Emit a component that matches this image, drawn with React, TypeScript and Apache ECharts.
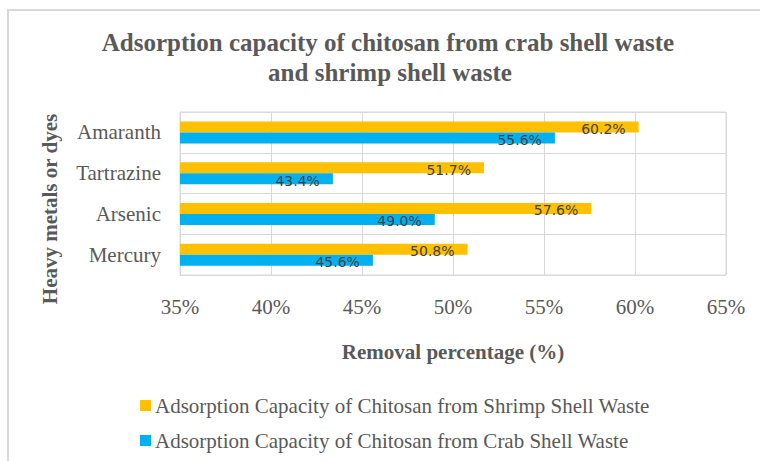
import React, { useEffect, useRef } from "react";
import * as echarts from "echarts";

const categories = ["Mercury", "Arsenic", "Tartrazine", "Amaranth"];
const shrimpValues = [50.8, 57.6, 51.7, 60.2];
const crabValues = [45.6, 49.0, 43.4, 55.6];
const shrimpName = "Adsorption Capacity of Chitosan from Shrimp Shell Waste";
const crabName = "Adsorption Capacity of Chitosan from Crab Shell Waste";
const titleLines = ["Adsorption capacity of chitosan from crab shell waste", "and shrimp shell waste"];
const xAxisTitle = "Removal percentage (%)";
const yAxisTitle = "Heavy metals or dyes";
const xMin = 35;
const xMax = 65;
const xStep = 5;

const SERIF = "'Liberation Serif', 'Times New Roman', serif";
const GREY = "#595959";

export default function App() {
  const ref = useRef<HTMLDivElement>(null);
  useEffect(() => {
    if (!ref.current) return;
    const chart = echarts.init(ref.current, null, { renderer: "svg" });
    const label = {
      show: true,
      position: "insideRight" as const,
      distance: 13,
      offset: [0, 2],
      formatter: (p: any) => p.value.toFixed(1) + "%",
      color: "#404040",
      fontFamily: "'DejaVu Sans', sans-serif",
      fontSize: 14,
    };
    chart.setOption({
      animation: false,
      backgroundColor: "#ffffff",
      graphic: [
        {
          type: "rect",
          shape: { x: 8, y: 10, width: 800, height: 500 },
          style: { fill: "none", stroke: "#d9d9d9", lineWidth: 2 },
          z: 0,
        },
        {
          type: "text",
          x: 388,
          y: 42,
          style: {
            text: titleLines[0],
            textAlign: "center",
            textVerticalAlign: "middle",
            font: `bold 25px ${SERIF}`,
            fill: GREY,
          },
        },
        {
          type: "text",
          x: 390,
          y: 72,
          style: {
            text: titleLines[1],
            textAlign: "center",
            textVerticalAlign: "middle",
            font: `bold 25px ${SERIF}`,
            fill: GREY,
          },
        },
        {
          type: "text",
          x: 50,
          y: 209,
          rotation: Math.PI / 2,
          style: {
            text: yAxisTitle,
            textAlign: "center",
            textVerticalAlign: "middle",
            font: `bold 21px ${SERIF}`,
            fill: GREY,
          },
        },
      ],
      grid: {
        left: 180,
        right: 34,
        top: 112,
        bottom: 186,
        show: true,
        borderColor: "#d9d9d9",
        borderWidth: 1,
        containLabel: false,
      },
      legend: {
        orient: "vertical",
        left: 135,
        top: 390,
        itemWidth: 11,
        itemHeight: 11,
        itemGap: 14,
        icon: "rect",
        data: [shrimpName, crabName],
        textStyle: {
          color: GREY,
          fontFamily: SERIF,
          fontSize: 21,
          lineHeight: 21,
          padding: [0, 0, 0, -1],
        },
      },
      xAxis: {
        type: "value",
        min: xMin,
        max: xMax,
        interval: xStep,
        axisLine: { show: false },
        axisTick: { show: false },
        splitLine: { show: true, lineStyle: { color: "#d9d9d9", width: 1 } },
        axisLabel: {
          formatter: "{value}%",
          color: GREY,
          fontFamily: SERIF,
          fontSize: 21,
          margin: 21,
        },
        name: xAxisTitle,
        nameLocation: "middle",
        nameGap: 66,
        nameTextStyle: {
          color: GREY,
          fontFamily: SERIF,
          fontSize: 21,
          fontWeight: "bold",
        },
      },
      yAxis: {
        type: "category",
        data: categories,
        axisLine: { show: false },
        axisTick: { show: false },
        splitLine: { show: true, lineStyle: { color: "#d9d9d9", width: 1 } },
        axisLabel: {
          color: GREY,
          fontFamily: SERIF,
          fontSize: 21,
          margin: 19,
        },
      },
      series: [
        {
          name: shrimpName,
          type: "bar",
          data: shrimpValues,
          barWidth: 11,
          barGap: "0%",
          itemStyle: { color: "#FFC000" },
          label,
        },
        {
          name: crabName,
          type: "bar",
          data: crabValues,
          barWidth: 11,
          barGap: "0%",
          itemStyle: { color: "#00B0F0" },
          label,
        },
      ],
    });
    return () => chart.dispose();
  }, []);
  return (
    <div
      ref={ref}
      style={{ position: "fixed", left: 0, top: 0, width: 760, height: 461, background: "#fff" }}
    />
  );
}
